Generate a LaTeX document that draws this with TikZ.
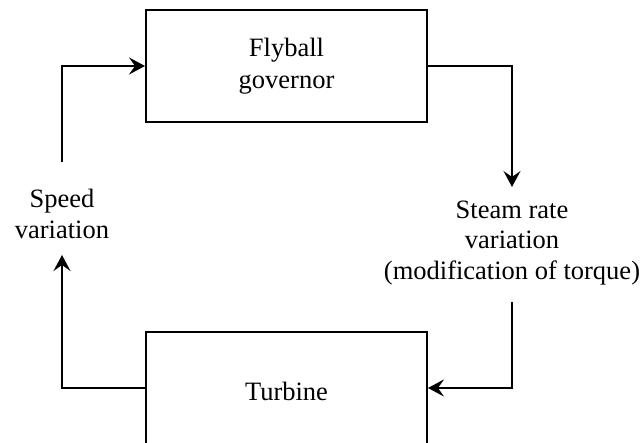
\documentclass[tikz,border=0pt]{standalone}
\usepackage{fontspec}
\setmainfont{Liberation Serif}
\usetikzlibrary{arrows.meta}
\begin{document}
\begin{tikzpicture}[x=1pt,y=1pt,
  blk/.style={draw, line width=1.9pt, minimum width=281pt, inner sep=0pt, align=center, font=\fontsize{26.5}{32}\selectfont},
  lbl/.style={align=center, inner sep=0pt, font=\fontsize{26.5}{30.5}\selectfont},
  conn/.style={line width=1.9pt},
  arr/.style={conn, -{Stealth[length=16pt, width=17pt, inset=6pt]}}]
\useasboundingbox (0,0) rectangle (643,443);
\node[blk, minimum height=112pt] (gov) at (286.5,377) {Flyball\\governor};
\node[blk, minimum height=118pt] (tur) at (286.5,52) {Turbine};
\node[lbl] (speed) at (62,229) {Speed\\variation};
\node[lbl] (steam) at (512,200) {Steam rate\\variation\\(modification of torque)};
\coordinate (gr) at (512,377);
\coordinate (sa) at (512,256);
\coordinate (sb) at (512,141);
\coordinate (tr) at (512,55);
\coordinate (tl) at (62,55);
\coordinate (va) at (62,188);
\coordinate (vb) at (62,281);
\coordinate (gl) at (62,377);
\draw[arr] (gov.east) -- (gr) -- (sa);
\draw[arr] (sb) -- (tr) -- (tur.east |- tr);
\draw[arr] (tur.west |- tl) -- (tl) -- (va);
\draw[arr] (vb) -- (gl) -- (gov.west);
\end{tikzpicture}
\end{document}
